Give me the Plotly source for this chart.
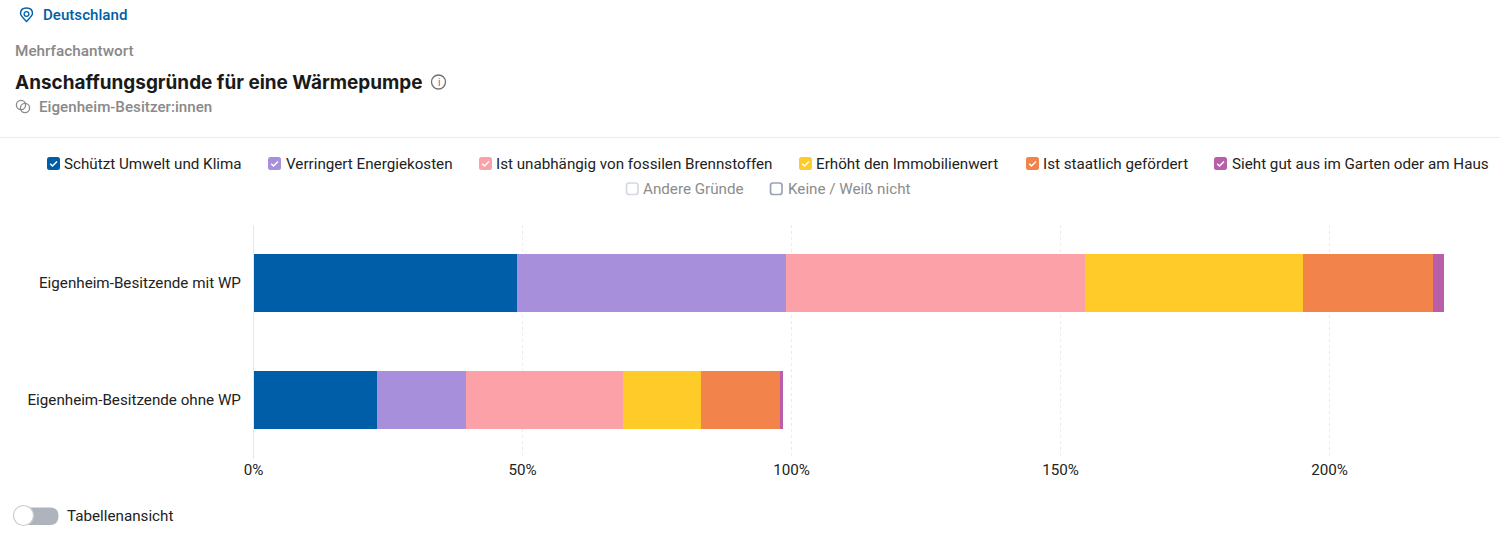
import plotly.graph_objects as go

W, H = 1500, 543

categories = ["Eigenheim-Besitzende mit WP", "Eigenheim-Besitzende ohne WP"]
series_names = [
    "Schützt Umwelt und Klima",
    "Verringert Energiekosten",
    "Ist unabhängig von fossilen Brennstoffen",
    "Erhöht den Immobilienwert",
    "Ist staatlich gefördert",
    "Sieht gut aus im Garten oder am Haus",
]
umwelt = [49.0, 23.0]
energie = [50.0, 16.5]
fossil = [55.6, 29.2]
immobilie = [40.5, 14.5]
staatlich = [24.2, 14.7]
garten = [2.0, 0.5]
series_values = [umwelt, energie, fossil, immobilie, staatlich, garten]
series_colors = ["#005ea8", "#a78fdb", "#fca1a8", "#ffcb29", "#f2834b", "#b95ea8"]
off_names = ["Andere Gründe", "Keine / Weiß nicht"]
off_colors = ["#d5dae2", "#98a3b3"]
tick_values = [0, 50, 100, 150, 200]
tick_labels = ["0%", "50%", "100%", "150%", "200%"]

FONT = "Roboto, sans-serif"
MEDIUM = "Roboto Medium, Roboto, sans-serif"


def px(x):
    return x / W


def py(y):
    return 1 - y / H


def label(x, y, text, size=15.2, color="#222222", family=FONT, anchor="left"):
    return dict(
        x=px(x), y=py(y), xref="paper", yref="paper", text=text, showarrow=False,
        xanchor=anchor, yanchor="middle", borderpad=0, borderwidth=0,
        font=dict(size=size, color=color, family=family),
    )


def rounded_box(x0, y0, s, r, fill, line):
    x1, y1 = x0 + s, y0 + s
    path = (
        f"M{px(x0 + r)},{py(y0)} L{px(x1 - r)},{py(y0)} Q{px(x1)},{py(y0)} {px(x1)},{py(y0 + r)} "
        f"L{px(x1)},{py(y1 - r)} Q{px(x1)},{py(y1)} {px(x1 - r)},{py(y1)} "
        f"L{px(x0 + r)},{py(y1)} Q{px(x0)},{py(y1)} {px(x0)},{py(y1 - r)} "
        f"L{px(x0)},{py(y0 + r)} Q{px(x0)},{py(y0)} {px(x0 + r)},{py(y0)} Z"
    )
    return dict(type="path", xref="paper", yref="paper", path=path, fillcolor=fill,
                line=dict(color=line, width=1.7 if fill == "white" else 0), layer="above")


def check(x0, y0):
    path = (f"M{px(x0 + 3.2)},{py(y0 + 6.8)} L{px(x0 + 5.5)},{py(y0 + 9)} "
            f"L{px(x0 + 10)},{py(y0 + 4.4)}")
    return dict(type="path", xref="paper", yref="paper", path=path,
                line=dict(color="white", width=1.5), layer="above")


def circle(cx, cy, r, fill="rgba(0,0,0,0)", line="#808080", width=1.3):
    return dict(type="circle", xref="paper", yref="paper",
                x0=px(cx - r), x1=px(cx + r), y0=py(cy + r), y1=py(cy - r),
                fillcolor=fill, line=dict(color=line, width=width), layer="above")


def seg(x0, y0, x1, y1, color, width=1.3):
    return dict(type="line", xref="paper", yref="paper", x0=px(x0), y0=py(y0), x1=px(x1), y1=py(y1),
                line=dict(color=color, width=width), layer="above")


fig = go.Figure()
for name, vals, col in zip(series_names, series_values, series_colors):
    fig.add_trace(go.Bar(y=categories, x=vals, name=name, orientation="h",
                         marker=dict(color=col, line=dict(width=0)),
                         hovertemplate="%{y}: %{x}%<extra>" + name + "</extra>"))

legend_box_x = [47, 268, 479, 799, 1026, 1214]
legend_text_x = [64, 286, 496, 816, 1043, 1232]
off_box_x = [626, 770]
off_text_x = [643, 788]

annotations = [
    label(43, 15, "Deutschland", 15.1, "#005ea8", MEDIUM),
    label(15, 51, "Mehrfachantwort", 15.3, "#8a8a8a", MEDIUM),
    label(15, 82, "<b>Anschaffungsgründe für eine Wärmepumpe</b>", 18.95, "#1a1a1a", "Inter, sans-serif"),
    label(39, 107, "Eigenheim-Besitzer:innen", 15.2, "#8a8a8a", MEDIUM),
    label(67, 516, "Tabellenansicht", 15.2, "#222222"),
    label(438.5, 82.5, "i", 10, "#707070", anchor="center"),
]
shapes = [
    seg(0, 137.5, W, 137.5, "#ececec", 1),
    dict(type="path", xref="paper", yref="paper", layer="above",
         path=(f"M{px(26.5)},{py(21.5)} Q{px(20.5)},{py(15.5)} {px(20.5)},{py(13.5)} "
               f"Q{px(20.5)},{py(8)} {px(26.5)},{py(8)} Q{px(32.5)},{py(8)} {px(32.5)},{py(13.5)} "
               f"Q{px(32.5)},{py(15.5)} {px(26.5)},{py(21.5)} Z"),
         line=dict(color="#005ea8", width=1.4)),
    circle(26.5, 14, 2.4, line="#005ea8"),
    circle(438.5, 82, 7, line="#707070"),
    circle(21, 105, 4.6, line="#8a8a8a"),
    circle(25, 108, 4.6, line="#8a8a8a"),
    dict(type="path", xref="paper", yref="paper", layer="above",
         path=(f"M{px(23)},{py(507.5)} L{px(50)},{py(507.5)} Q{px(58.5)},{py(507.5)} {px(58.5)},{py(516)} "
               f"Q{px(58.5)},{py(525)} {px(50)},{py(525)} L{px(23)},{py(525)} Z"),
         fillcolor="#aeb4bc", line=dict(width=0)),
    circle(23.5, 515.5, 10, fill="white", line="#cfcfcf", width=1.2),
]

for name, col, bx, tx in zip(series_names, series_colors, legend_box_x, legend_text_x):
    shapes.append(rounded_box(bx, 157, 13, 2.5, col, col))
    shapes.append(check(bx, 157))
    annotations.append(label(tx, 164, name))
for name, col, bx, tx in zip(off_names, off_colors, off_box_x, off_text_x):
    shapes.append(rounded_box(bx + 0.5, 183, 11.5, 2.5, "white", col))
    annotations.append(label(tx, 189, name, 15.2, "#8c8c8c"))

px_per_unit = 5.38
plot_left, plot_right = 253.5, 1490
fig.update_layout(
    width=W, height=H, autosize=False, barmode="stack", bargap=0.5,
    paper_bgcolor="white", plot_bgcolor="white", showlegend=False,
    margin=dict(l=0, r=0, t=0, b=0),
    font=dict(family=FONT, size=15, color="#222222"),
    xaxis=dict(domain=[px(plot_left), px(plot_right)], automargin=False,
               range=[0, (plot_right - plot_left) / px_per_unit],
               anchor="y", tickmode="array", tickvals=tick_values, ticktext=tick_labels,
               showgrid=True, gridcolor="#ebebeb", griddash="dot", gridwidth=1,
               zeroline=False, showline=False, ticks="",
               tickfont=dict(size=15.2, color="#222222")),
    yaxis=dict(domain=[py(458.5), py(224.5)], automargin=False, autorange="reversed", type="category",
               categoryorder="array", categoryarray=categories,
               showgrid=False, zeroline=False, showline=True, linecolor="#e6e6e6", linewidth=1,
               ticks="outside", ticklen=8.5, tickcolor="white",
               tickfont=dict(size=15.2, color="#222222")),
    annotations=annotations, shapes=shapes,
)

fig.write_html("out.html", post_script="document.body.style.margin='0';",
               config=dict(displayModeBar=False))
